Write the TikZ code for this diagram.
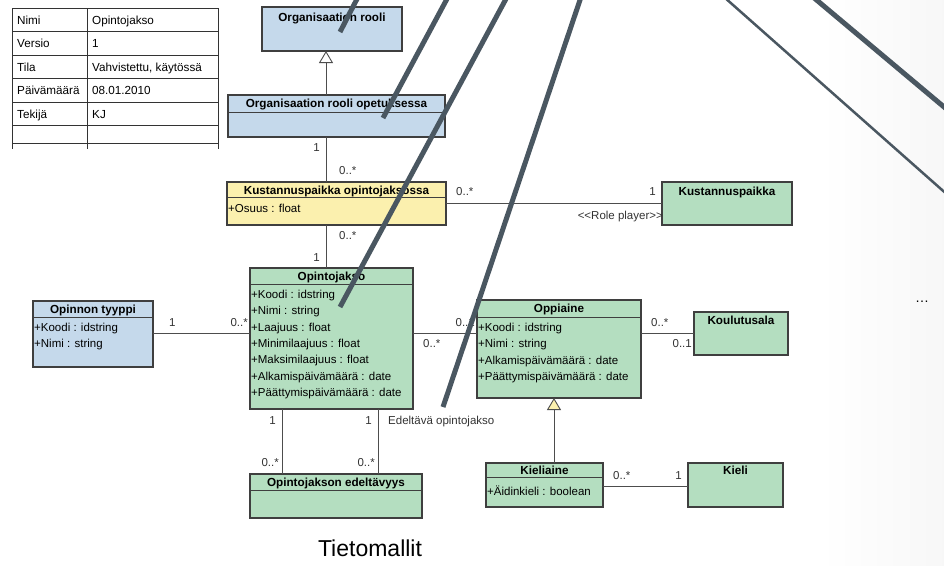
\documentclass[tikz,border=0pt]{standalone}
\usepackage{fontspec}
\setmainfont{Liberation Sans}
\usetikzlibrary{arrows.meta}
\definecolor{clsblue}{HTML}{C5D9EB}
\definecolor{clsgreen}{HTML}{B4DEC0}
\definecolor{clsyellow}{HTML}{FBF0AE}
\definecolor{umlborder}{HTML}{3F3F3F}
\definecolor{conncolor}{HTML}{4D4D4D}
\definecolor{labelgray}{HTML}{333333}
\definecolor{slashgray}{HTML}{4A5761}
\begin{document}
\begin{tikzpicture}[x=1pt,y=-1pt,font=\fontsize{11.5}{13}\selectfont]
\tikzset{
  txt/.style={inner sep=0pt,text height=8.3pt,text depth=0pt},
  cls/.style={draw=umlborder,line width=1.1pt,rectangle,inner sep=0pt,outer sep=0pt,anchor=north west},
  ttl/.style={txt,font=\fontsize{11.7}{13}\selectfont\bfseries,anchor=center},
  attr/.style={txt,anchor=west},
  mult/.style={txt,text=labelgray},
  sepline/.style={draw=umlborder,line width=1pt},
  assoc/.style={draw=conncolor,line width=0.9pt},
  genarrow/.style={draw=conncolor,line width=0.9pt,-{Triangle[length=12pt,width=14pt,fill=#1]}},
  tblline/.style={draw=black!80,line width=0.8pt},
  tbltext/.style={txt,anchor=west,font=\fontsize{11.7}{13}\selectfont},
  slashthick/.style={draw=slashgray,line width=5pt},
  slashthin/.style={draw=slashgray,line width=2.5pt},
}
\useasboundingbox (0,0) rectangle (944,565);
\fill[white] (0,0) rectangle (944,565);
% faint paper tint along the right edge
\shade[left color=white,right color=black!3] (820,0) rectangle (944,565);

% ---------- info table ----------
\foreach \yy in {8,31.5,55,78.5,102,125.5,143} {\draw[tblline] (12,\yy) -- (218,\yy);}
\draw[tblline] (12,8) -- (12,149);
\draw[tblline] (87,8) -- (87,149);
\draw[tblline] (218,8) -- (218,149);
\node[tbltext] (tk1) at (17,20) {Nimi};
\node[tbltext] (tv1) at (92,20) {Opintojakso};
\node[tbltext] (tk2) at (17,43.5) {Versio};
\node[tbltext] (tv2) at (92,43.5) {1};
\node[tbltext] (tk3) at (17,67) {Tila};
\node[tbltext] (tv3) at (92,67) {Vahvistettu, käytössä};
\node[tbltext] (tk4) at (17,90.5) {Päivämäärä};
\node[tbltext] (tv4) at (92,90.5) {08.01.2010};
\node[tbltext] (tk5) at (17,114) {Tekijä};
\node[tbltext] (tv5) at (92,114) {KJ};

% ---------- helper positions for straight connectors ----------
\coordinate (xa) at (326,0);
\coordinate (xb) at (554,0);
\coordinate (xc) at (282,0);
\coordinate (xd) at (378,0);
\coordinate (ya) at (0,203);
\coordinate (yb) at (0,333);
\coordinate (yc) at (0,486);

% ---------- classes ----------
\node[cls,fill=clsblue,minimum width=140pt,minimum height=44pt] (org) at (262,7) {};
\node[ttl] (orgT) at (332,17) {Organisaation rooli};

\node[cls,fill=clsblue,minimum width=217pt,minimum height=42pt] (orgop) at (228,95) {};
\draw[sepline] (228,112) -- (445,112);
\node[ttl] (orgopT) at (336.5,103.5) {Organisaation rooli opetuksessa};

\node[cls,fill=clsyellow,minimum width=219pt,minimum height=43pt] (kop) at (227,182) {};
\draw[sepline] (227,197) -- (446,197);
\node[ttl] (kopT) at (336.5,190) {Kustannuspaikka opintojaksossa};
\node[attr] (kopA1) at (228,208.5) {+Osuus : float};

\node[cls,fill=clsgreen,minimum width=130pt,minimum height=43pt] (kp) at (662,182) {};
\node[ttl] (kpT) at (727,191) {Kustannuspaikka};

\node[cls,fill=clsgreen,minimum width=163pt,minimum height=141pt] (oj) at (250,268) {};
\draw[sepline] (250,284.5) -- (413,284.5);
\node[ttl] (ojT) at (331.5,276.5) {Opintojakso};
\node[attr] (ojA1) at (251,294.5) {+Koodi : idstring};
\node[attr] (ojA2) at (251,310.8) {+Nimi : string};
\node[attr] (ojA3) at (251,327.1) {+Laajuus : float};
\node[attr] (ojA4) at (251,343.4) {+Minimilaajuus : float};
\node[attr] (ojA5) at (251,359.7) {+Maksimilaajuus : float};
\node[attr] (ojA6) at (251,376) {+Alkamispäivämäärä : date};
\node[attr] (ojA7) at (251,392.3) {+Päättymispäivämäärä : date};

\node[cls,fill=clsblue,minimum width=120pt,minimum height=66pt] (ot) at (33,301) {};
\draw[sepline] (33,317) -- (153,317);
\node[ttl] (otT) at (93,309) {Opinnon tyyppi};
\node[attr] (otA1) at (34,327.5) {+Koodi : idstring};
\node[attr] (otA2) at (34,343.5) {+Nimi : string};

\node[cls,fill=clsgreen,minimum width=164pt,minimum height=98pt] (op) at (477,300) {};
\draw[sepline] (477,317) -- (641,317);
\node[ttl] (opT) at (559,308.5) {Oppiaine};
\node[attr] (opA1) at (478,327.5) {+Koodi : idstring};
\node[attr] (opA2) at (478,343.8) {+Nimi : string};
\node[attr] (opA3) at (478,360.1) {+Alkamispäivämäärä : date};
\node[attr] (opA4) at (478,376.4) {+Päättymispäivämäärä : date};

\node[cls,fill=clsgreen,minimum width=94pt,minimum height=43pt] (ka) at (694,312) {};
\node[ttl] (kaT) at (741,320.5) {Koulutusala};

\node[cls,fill=clsgreen,minimum width=172pt,minimum height=44pt] (oe) at (250,474) {};
\draw[sepline] (250,490) -- (422,490);
\node[ttl] (oeT) at (336,482) {Opintojakson edeltävyys};

\node[cls,fill=clsgreen,minimum width=117pt,minimum height=44pt] (kl) at (486,463) {};
\draw[sepline] (486,477) -- (603,477);
\node[ttl] (klT) at (544.5,470) {Kieliaine};
\node[attr] (klA1) at (487,491) {+Äidinkieli : boolean};

\node[cls,fill=clsgreen,minimum width=95pt,minimum height=44pt] (ki) at (688,463) {};
\node[ttl] (kiT) at (735.5,470) {Kieli};

% ---------- generalizations ----------
\draw[genarrow=white] (orgop.north -| xa) -- (org.south -| xa);
\draw[genarrow=clsyellow] (kl.north -| xb) -- (op.south -| xb);

% ---------- associations ----------
\draw[assoc] (orgop.south -| xa) -- (kop.north -| xa);
\node[mult,anchor=east] (m1) at (320,147) {1};
\node[mult,anchor=west] (m2) at (339,170) {0..*};

\draw[assoc] (kop.south -| xa) -- (oj.north -| xa);
\node[mult,anchor=west] (m3) at (339,235) {0..*};
\node[mult,anchor=east] (m4) at (320,257) {1};

\draw[assoc] (kop.east |- ya) -- (kp.west |- ya);
\node[mult,anchor=west] (m5) at (456,191) {0..*};
\node[mult,anchor=east] (m6) at (656,191) {1};
\node[mult,anchor=east] (rp) at (663,215) {<\kern0pt<Role player>\kern0pt>};

\draw[assoc] (ot.east |- yb) -- (oj.west |- yb);
\node[mult,anchor=west] (m7) at (169,322) {1};
\node[mult,anchor=east] (m8) at (248,322) {0..*};

\draw[assoc] (oj.east |- yb) -- (op.west |- yb);
\node[mult,anchor=east] (m9) at (475,322) {0..1};
\node[mult,anchor=west] (m10) at (423,343) {0..*};

\draw[assoc] (op.east |- yb) -- (ka.west |- yb);
\node[mult,anchor=west] (m11) at (651,322) {0..*};
\node[mult,anchor=east] (m12) at (692,343) {0..1};

\draw[assoc] (oj.south -| xc) -- (oe.north -| xc);
\node[mult,anchor=east] (m13) at (276,420) {1};
\node[mult,anchor=east] (m14) at (279,462) {0..*};
\draw[assoc] (oj.south -| xd) -- (oe.north -| xd);
\node[mult,anchor=east] (m15) at (372,420) {1};
\node[mult,anchor=east] (m16) at (375,462) {0..*};
\node[mult,anchor=west] (rn) at (388,420) {Edeltävä opintojakso};

\draw[assoc] (kl.east |- yc) -- (ki.west |- yc);
\node[mult,anchor=west] (m17) at (613,475) {0..*};
\node[mult,anchor=east] (m18) at (682,475) {1};

% ---------- caption and ellipsis ----------
\node[inner sep=0pt,font=\fontsize{23}{26}\selectfont] (cap) at (370,548) {Tietomallit};
\node[inner sep=0pt,font=\fontsize{14}{16}\selectfont] (dots) at (922,302) {\dots};

% ---------- overlaid pointer strokes ----------
\begin{scope}
\clip (0,0) rectangle (944,565);
\coordinate (s1a) at (358,-3);  \coordinate (s1b) at (340,32);
\coordinate (s2a) at (448,-3);  \coordinate (s2b) at (383,118);
\coordinate (s3a) at (507,-3);  \coordinate (s3b) at (340,307);
\coordinate (s4a) at (581,-3);  \coordinate (s4b) at (443,407);
\coordinate (s5a) at (724,-3);  \coordinate (s5b) at (950,197);
\coordinate (s6a) at (813,-3);  \coordinate (s6b) at (950,112);
\draw[slashthick] (s1a) -- (s1b);
\draw[slashthick] (s2a) -- (s2b);
\draw[slashthick] (s3a) -- (s3b);
\draw[slashthick] (s4a) -- (s4b);
\draw[slashthin] (s5a) -- (s5b);
\draw[slashthick] (s6a) -- (s6b);
\end{scope}
\end{tikzpicture}
\end{document}
